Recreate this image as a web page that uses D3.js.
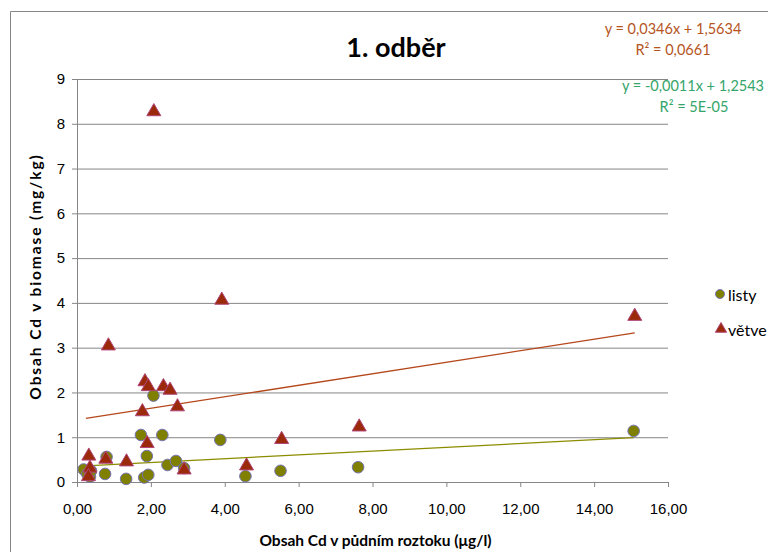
<!DOCTYPE html>
<html>
<head>
<meta charset="utf-8">
<script src="https://cdn.jsdelivr.net/npm/d3@7"></script>
<style>
  body { margin: 0; background: #fff; }
  svg { font-family: Lato, 'Open Sans', sans-serif; }
  .tick text { font-size: 15px; fill: #000; }
  .axis-label { font-size: 15.5px; font-weight: bold; fill: #000; }
  .title { font-size: 27px; font-weight: bold; fill: #000; }
  .eq { font-size: 14.5px; }
  .legend text { font-size: 16px; fill: #000; }
</style>
</head>
<body>
<svg width="768" height="552"></svg>
<script>
// listy (leaves)
const listyX = [0.18, 0.28, 0.35, 0.38, 0.80, 0.76, 1.33, 1.73, 1.89, 1.82, 1.93, 2.07, 2.31, 2.45, 2.68, 2.90, 3.88, 4.56, 5.51, 7.61, 15.07]
const listyY = [0.28, 0.18, 0.12, 0.25, 0.56, 0.18, 0.07, 1.05, 0.58, 0.10, 0.16, 1.93, 1.05, 0.38, 0.47, 0.31, 0.94, 0.13, 0.25, 0.33, 1.14]

// větve (branches)
const vetveX = [0.32, 0.35, 0.31, 0.78, 1.34, 1.77, 1.84, 1.93, 1.90, 2.34, 2.52, 2.72, 2.90, 5.54, 4.59, 7.64, 2.08, 0.85, 3.92, 15.10]
const vetveY = [0.58, 0.31, 0.12, 0.51, 0.45, 1.57, 2.24, 2.13, 0.86, 2.13, 2.05, 1.68, 0.27, 0.95, 0.36, 1.23, 8.27, 3.04, 4.06, 3.70]

// trend lines as drawn (start / end)
const trendListy = [[0.24, 0.36], [15.07, 0.99]]
const trendVetve = [[0.24, 1.42], [15.10, 3.33]]

const xTicks = [0, 2, 4, 6, 8, 10, 12, 14, 16]
const yTicks = [0, 1, 2, 3, 4, 5, 6, 7, 8, 9]

const eqVetve = ['y = 0,0346x + 1,5634', 'R² = 0,0661']
const eqListy = ['y = -0,0011x + 1,2543', 'R² = 5E-05']

const svg = d3.select('svg')
const margin = { top: 79, left: 77 }
const innerWidth = 591
const innerHeight = 403

const xScale = d3.scaleLinear().domain([0, 16]).range([0, innerWidth])
const yScale = d3.scaleLinear().domain([0, 9]).range([innerHeight, 0])

// chart border: only the top and left edges fall inside the picture
svg.append('path')
  .attr('d', 'M10.5,552V11.5H768')
  .attr('fill', 'none')
  .attr('stroke', '#868686')

const g = svg.append('g')
  .attr('transform', `translate(${margin.left}, ${margin.top})`)

// gridlines
g.append('g')
  .call(d3.axisLeft(yScale).tickValues(yTicks.slice(1)).tickSize(-innerWidth).tickFormat(''))
  .call(a => a.select('.domain').remove())
  .selectAll('line').attr('stroke', '#868686')

const xAxisG = g.append('g')
  .attr('transform', `translate(0, ${innerHeight})`)
  .call(d3.axisBottom(xScale).tickValues(xTicks).tickSize(5).tickSizeOuter(0)
    .tickFormat(d => d.toFixed(2).replace('.', ',')))
xAxisG.selectAll('.domain, line').attr('stroke', '#868686')
xAxisG.selectAll('text').attr('dy', 0).attr('y', 32)

const yAxisG = g.append('g')
  .call(d3.axisLeft(yScale).tickValues(yTicks).tickSize(5).tickSizeOuter(0))
yAxisG.selectAll('.domain, line').attr('stroke', '#868686')
yAxisG.selectAll('text').attr('x', -12)

g.append('text')
  .attr('class', 'axis-label')
  .attr('x', innerWidth / 2 + 3)
  .attr('y', innerHeight + 64)
  .attr('text-anchor', 'middle')
  .text('Obsah Cd v půdním roztoku (μg/l)')

g.append('text')
  .attr('class', 'axis-label')
  .attr('transform', `translate(-36, ${innerHeight / 2 - 4}) rotate(-90)`)
  .attr('text-anchor', 'middle')
  .attr('letter-spacing', 1.9)
  .text('Obsah Cd v biomase (mg/kg)')

svg.append('text')
  .attr('class', 'title')
  .attr('x', 396)
  .attr('y', 57)
  .attr('text-anchor', 'middle')
  .text('1. odběr')

// trend lines
const line = d3.line().x(d => xScale(d[0])).y(d => yScale(d[1]))
g.append('path').attr('d', line(trendVetve)).attr('fill', 'none').attr('stroke', '#B5471B').attr('stroke-width', 1.3)
g.append('path').attr('d', line(trendListy)).attr('fill', 'none').attr('stroke', '#8C8C00').attr('stroke-width', 1.3)

// markers
const circleFill = '#808000'
const circleStroke = '#7474B4'
const triFill = '#9A2A0A'
const triStroke = '#B0457A'

g.selectAll('circle.listy').data(listyX.map((x, i) => [x, listyY[i]]))
  .enter().append('circle')
  .attr('class', 'listy')
  .attr('cx', d => xScale(d[0]))
  .attr('cy', d => yScale(d[1]))
  .attr('r', 5.8)
  .attr('fill', circleFill)
  .attr('stroke', circleStroke)
  .attr('stroke-width', 1)

const tri = d3.symbol().type(d3.symbolTriangle).size(85)
g.selectAll('path.vetve').data(vetveX.map((x, i) => [x, vetveY[i]]))
  .enter().append('path')
  .attr('class', 'vetve')
  .attr('d', tri)
  .attr('transform', d => `translate(${xScale(d[0])}, ${yScale(d[1])})`)
  .attr('fill', triFill)
  .attr('stroke', triStroke)
  .attr('stroke-width', 1)

// trend equations
const eq1 = svg.append('text').attr('class', 'eq').attr('fill', '#B5541E').attr('text-anchor', 'middle')
eq1.append('tspan').attr('x', 673).attr('y', 34).text(eqVetve[0])
eq1.append('tspan').attr('x', 673).attr('y', 55).text(eqVetve[1])

const eq2 = svg.append('text').attr('class', 'eq').attr('fill', '#34A56A').attr('text-anchor', 'middle')
eq2.append('tspan').attr('x', 693).attr('y', 91).text(eqListy[0])
eq2.append('tspan').attr('x', 694).attr('y', 112).text(eqListy[1])

// legend
const legend = svg.append('g').attr('class', 'legend')
legend.append('circle').attr('cx', 720).attr('cy', 294).attr('r', 4.5)
  .attr('fill', circleFill).attr('stroke', circleStroke)
legend.append('text').attr('x', 728).attr('y', 301).text('listy')
legend.append('path').attr('d', d3.symbol().type(d3.symbolTriangle).size(55))
  .attr('transform', 'translate(721, 329)')
  .attr('fill', triFill).attr('stroke', triStroke)
legend.append('text').attr('x', 728).attr('y', 336).text('větve')
</script>
</body>
</html>
